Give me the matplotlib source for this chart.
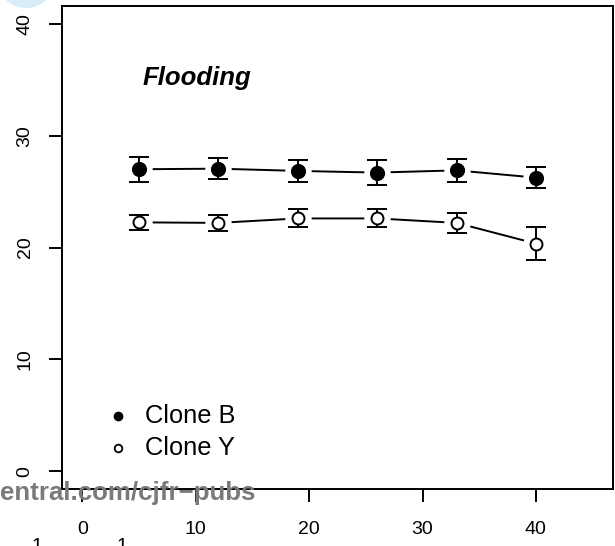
import matplotlib
matplotlib.use("Agg")
import matplotlib.pyplot as plt
from matplotlib.patches import Circle

plt.rcParams['font.family'] = ['Liberation Sans', 'DejaVu Sans']

days = [5, 12, 19, 26, 33, 40]
clone_b = [27.0, 27.05, 26.85, 26.7, 26.9, 26.25]
clone_b_err = [1.1, 0.95, 1.0, 1.1, 1.0, 0.95]
clone_y = [22.25, 22.2, 22.6, 22.6, 22.2, 20.35]
clone_y_err = [0.7, 0.7, 0.8, 0.8, 0.9, 1.45]
xticks = [0, 10, 20, 30, 40]
yticks = [0, 10, 20, 30, 40]
title = "Flooding"
labels = ["Clone B", "Clone Y"]

W, H = 615, 546
fig = plt.figure(figsize=(W / 100, H / 100), dpi=100)
ax = fig.add_axes([62 / W, 1 - 489 / H, (613 - 62) / W, (489 - 6) / H])

ax.set_xlim(-1.8, 46.8)
ax.set_ylim(-1.6, 41.6)

lw = 1.4
for vals, errs, filled in [(clone_b, clone_b_err, True), (clone_y, clone_y_err, False)]:
    ax.plot(days, vals, color='black', lw=lw, zorder=2)
    ax.plot(days, vals, 'o', ms=19, mfc='white', mec='none', zorder=3)
    ax.errorbar(days, vals, yerr=errs, fmt='none', ecolor='black', elinewidth=lw,
                capsize=7.2, capthick=lw, zorder=4)
    ax.plot(days, vals, 'o', ms=9.5 if filled else 8.6,
            mfc='black' if filled else 'white', mec='black', mew=1.4, zorder=5)

ax.set_xticks(xticks)
ax.set_yticks(yticks)
ax.tick_params(axis='both', length=9.4, width=lw, direction='out', color='black',
               labelsize=14)
ax.tick_params(axis='x', pad=14)
ax.tick_params(axis='y', pad=11)
ax.set_xticklabels([str(t) for t in xticks], fontsize=14)
ax.set_yticklabels([str(t) for t in yticks], fontsize=14, rotation=90, va='center')
for s in ax.spines.values():
    s.set_linewidth(lw)

ax.text(0.147, 0.836, title, transform=ax.transAxes, fontsize=18.5,
        fontweight='bold', fontstyle='italic', va='baseline', ha='left')

# legend
lx_m = (118 - 62) / 551
lx_t = (145 - 62) / 551
rows = [(489 - 416) / 483, (489 - 448) / 483]
ax.plot([lx_m], [rows[0]], 'o', ms=6, mfc='black', mec='black', transform=ax.transAxes, clip_on=False)
ax.plot([lx_m], [rows[1]], 'o', ms=5.5, mfc='white', mec='black', mew=1.3, transform=ax.transAxes, clip_on=False)
for r, lab in zip(rows, labels):
    ax.text(lx_t, r, lab, transform=ax.transAxes, fontsize=18.3, va='center', ha='left')

# watermark fragments
fig.text(0, 1 - 493 / H, "entral.com/cjfr\u2212pubs", fontsize=18.6, fontweight='bold',
         color='#7a7a7a', ha='left', va='center')
for xp in [37, 122]:
    fig.text(xp / W, 1 - 538 / H, "1", fontsize=14, ha='center', va='top')
fig.patches.append(Circle((26 / W, 1 + 16 / H), 27 / W, transform=fig.transFigure,
                          facecolor='#d8ecfa', edgecolor='none'))

fig.savefig("out.png", dpi=100)
